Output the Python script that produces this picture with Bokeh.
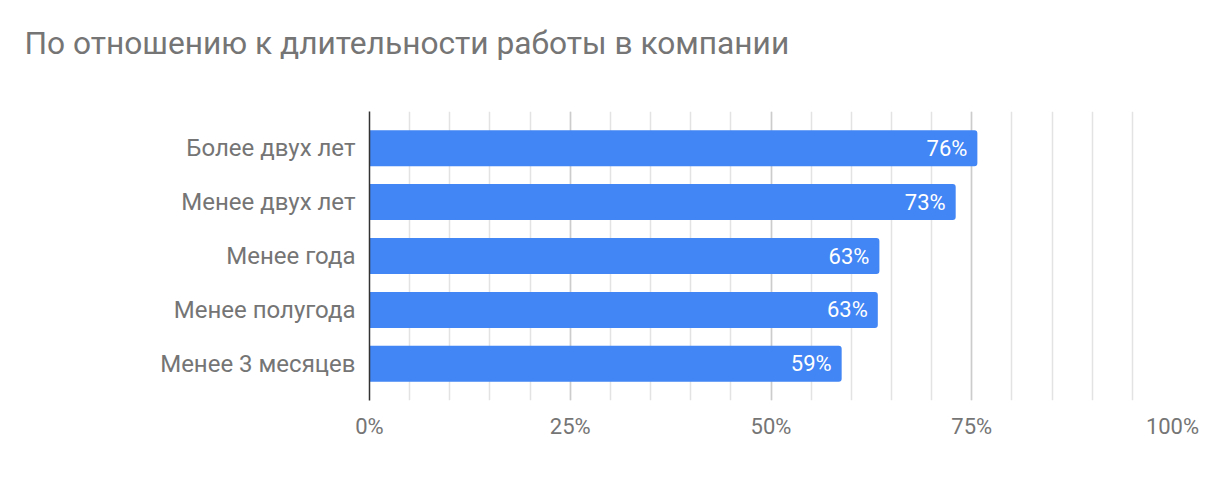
from bokeh.plotting import figure
from bokeh.models import Range1d, FixedTicker, ColumnDataSource, Title
from bokeh.core.properties import value
from bokeh.embed import file_html
from bokeh.resources import INLINE

categories = ["Более двух лет", "Менее двух лет", "Менее года", "Менее полугода", "Менее 3 месяцев"]
values = [0.757, 0.730, 0.635, 0.633, 0.588]
value_labels = ["76%", "73%", "63%", "63%", "59%"]
x_ticks = [0, 0.25, 0.5, 0.75, 1.0]
x_tick_labels = ["0%", "25%", "50%", "75%", "100%"]
minor_ticks = [i * 0.05 for i in range(21)]
title_text = "По отношению к длительности работы в компании"

FONT = "Roboto"
GREY = "#757575"

idx = list(range(len(categories)))
src = ColumnDataSource(dict(y=idx, v=values, lab=value_labels))

p = figure(width=1216, height=484, output_backend="svg", toolbar_location=None,
           x_range=Range1d(0, 1.0), y_range=Range1d(4.68, -0.68),
           min_border_left=369, min_border_right=44, min_border_top=0, min_border_bottom=84)
p.outline_line_color = None
p.background_fill_color = "white"
p.border_fill_color = "white"

# spacer between title and frame (nearest to the frame)
spacer = Title(text=" ", text_font_size="1px", standoff=24)
p.add_layout(spacer, "above")

p.title.text = title_text
p.title.align = "left"
p.title.text_font = FONT
p.title.text_font_size = "31.7px"
p.title.text_color = GREY
p.title.text_font_style = "normal"
p.title.offset = -345
p.title.standoff = 45

p.hbar(y="y", right="v", left=0, height=0.667, source=src, color="#4285F4",
       line_color=None, border_radius=(0, 3, 3, 0))
p.text(x="v", y="y", text="lab", source=src, text_align="right", text_baseline="middle",
       x_offset=-10, text_color="white", text_font=value(FONT), text_font_size="22px")

# x axis
p.xaxis.ticker = FixedTicker(ticks=x_ticks, minor_ticks=minor_ticks)
p.xaxis.major_label_overrides = {t_: l for t_, l in zip(x_ticks, x_tick_labels)}
p.xaxis.axis_line_color = None
p.xaxis.major_tick_line_color = None
p.xaxis.minor_tick_line_color = None
p.xaxis.major_label_text_font = FONT
p.xaxis.major_label_text_font_size = "22px"
p.xaxis.major_label_text_color = GREY
p.xaxis.major_label_standoff = 7
p.xgrid.grid_line_color = "#cccccc"
p.xgrid.grid_line_width = 1.5
p.xgrid.minor_grid_line_color = "#e3e3e3"
p.xgrid.minor_grid_line_width = 1.5

# y axis
p.yaxis.ticker = FixedTicker(ticks=idx)
p.yaxis.major_label_overrides = {i: c for i, c in zip(idx, categories)}
p.yaxis.axis_line_color = "#333333"
p.yaxis.axis_line_width = 1.5
p.yaxis.major_tick_line_color = None
p.yaxis.minor_tick_line_color = None
p.yaxis.major_label_text_font = FONT
p.yaxis.major_label_text_font_size = "24px"
p.yaxis.major_label_text_color = GREY
p.yaxis.major_label_standoff = 8
p.ygrid.grid_line_color = None

open("out.html", "w").write(file_html(p, INLINE))
